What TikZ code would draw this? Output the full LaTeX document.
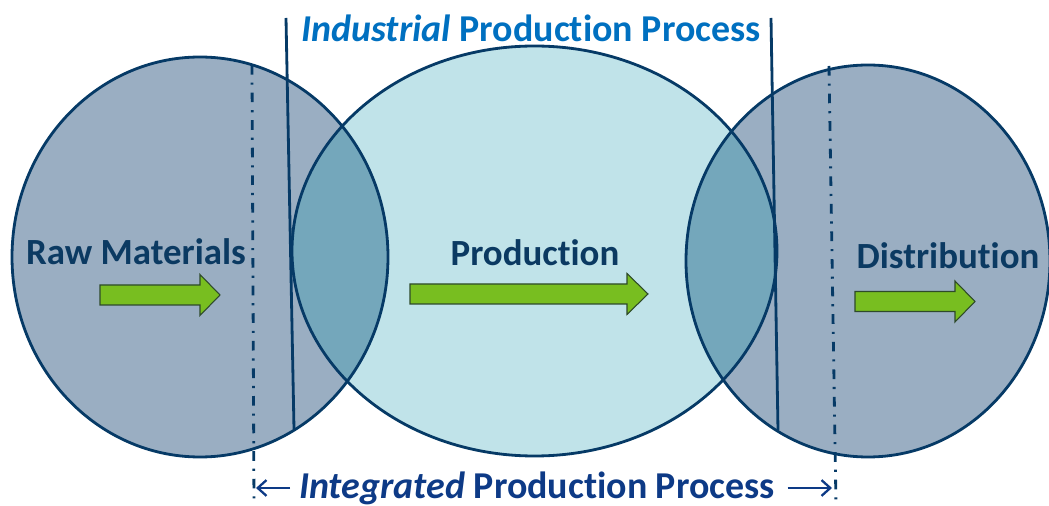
\documentclass[tikz,border=0pt]{standalone}
\usepackage{fontspec}
\setmainfont{Carlito}[Ligatures=NoCommon]
\usetikzlibrary{arrows.meta}

\definecolor{ringfill}{HTML}{9AAEC2}
\definecolor{midfill}{HTML}{C0E3E9}
\definecolor{lensfill}{HTML}{74A7BB}
\definecolor{ringedge}{HTML}{063A66}
\definecolor{labeltext}{HTML}{0B3A62}
\definecolor{toptext}{HTML}{0070C0}
\definecolor{bottomtext}{HTML}{0D3A86}
\definecolor{arrowgreen}{HTML}{78BE20}
\definecolor{arrowedge}{HTML}{2E4A2A}

\begin{document}
\begin{tikzpicture}
	[
	x=0.02cm, y=-0.02cm,
	edge/.style={draw=ringedge, line width=1.6pt},
	label/.style={font=\bfseries\fontsize{21}{25}\selectfont, text=labeltext, inner sep=0pt},
	title/.style={font=\bfseries\fontsize{21.6}{26}\selectfont, inner sep=0pt},
	dashdot/.style={draw=ringedge, line width=1.6pt, dash pattern=on 5.5pt off 4.5pt on 1.2pt off 4.5pt},
	shaft/.style={draw=arrowedge, fill=arrowgreen, line width=0.6pt}
	]
		\useasboundingbox (0,0) rectangle (1049,506);

		% centres
		\coordinate (raw) at (200,257);
		\coordinate (prod) at (534.5,251);
		\coordinate (dist) at (868,261);

		% fills
		\fill[ringfill] (raw) ellipse [x radius=188, y radius=200];
		\fill[ringfill] (dist) ellipse [x radius=182, y radius=196];
		\fill[midfill] (prod) ellipse [x radius=242.5, y radius=205];

		% overlaps
		\begin{scope}
			\clip (prod) ellipse [x radius=242.5, y radius=205];
			\fill[lensfill] (raw) ellipse [x radius=188, y radius=200];
			\fill[lensfill] (dist) ellipse [x radius=182, y radius=196];
		\end{scope}

		% outlines
		\draw[edge] (raw) ellipse [x radius=188, y radius=200];
		\draw[edge] (dist) ellipse [x radius=182, y radius=196];
		\draw[edge] (prod) ellipse [x radius=242.5, y radius=205];

		% limits of the two processes
		\draw[edge] (286,18) -- (294,429);
		\draw[edge] (771,18) -- (778,430);
		\coordinate (ltop) at (252,65);
		\coordinate (lbot) at (254,506);
		\coordinate (rtop) at (829,66);
		\coordinate (rbot) at (836,506);
		\draw[dashdot] (ltop) -- (lbot);
		\draw[dashdot] (rtop) -- (rbot);

		% labels
		\node[label] (lraw) at (136,252) {Raw Materials};
		\node[label] (lprod) at (535,253) {Production};
		\node[label] (ldist) at (948,256) {Distribution};
		\node[title, text=toptext] (indus) at (531,28) {\textit{Industrial} Production Process};
		\node[title, text=bottomtext] (integ) at (537,488) {\textit{Integrated} Production Process};

		% green arrows
		\foreach \a/\b/\c/\m in {100/200/220/295, 410/627/648/294, 855/955/975/301.5}
			\draw[shaft] (\a,\m-10) -- (\b,\m-10) -- (\b,\m-20.5) -- (\c,\m)
				-- (\b,\m+20.5) -- (\b,\m+10) -- (\a,\m+10) -- cycle;

		% span of the integrated process
		\coordinate (lend) at (256,488);
		\coordinate (rend) at (832,488);
		\draw[bottomtext, line width=1.3pt, -{Straight Barb[length=5pt, width=9pt]}] ([xshift=-5pt]integ.west) -- (lend);
		\draw[bottomtext, line width=1.3pt, -{Straight Barb[length=5pt, width=9pt]}] ([xshift=7pt]integ.east) -- (rend);
	\end{tikzpicture}
\end{document}
